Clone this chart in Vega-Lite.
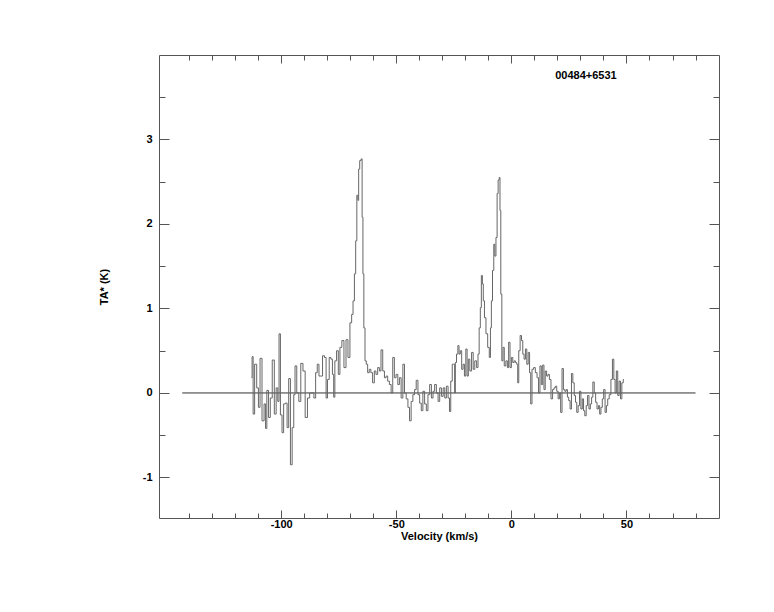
{
  "$schema": "https://vega.github.io/schema/vega-lite/v6.json",
  "width": 560,
  "height": 463,
  "autosize": "none",
  "padding": {"left": 159, "top": 55, "right": 55, "bottom": 94},
  "background": "white",
  "config": {
    "view": {"stroke": "#555", "strokeWidth": 1},
    "font": "Liberation Sans",
    "axis": {
      "grid": false,
      "domain": false,
      "tickColor": "#555",
      "tickWidth": 1,
      "labelFont": "Liberation Sans",
      "labelFontWeight": "bold",
      "labelFontSize": 11,
      "labelColor": "#000",
      "titleFont": "Liberation Sans",
      "titleFontWeight": "bold",
      "titleFontSize": 11,
      "titleColor": "#000"
    }
  },
  "datasets": {
    "base": [{"x1": -143, "x2": 80, "y": 0}],
    "lbl": [{"v": 32.4, "t": 3.75, "name": "00484+6531"}],
    "spec": [
      {"v":-112.9,"t":0.18},{"v":-112.4,"t":0.43},{"v":-112.0,"t":-0.25},{"v":-111.1,"t":0.34},{"v":-110.2,"t":0.06},{"v":-109.6,"t":-0.17},{"v":-108.8,"t":0.41},{"v":-107.9,"t":-0.33},{"v":-107.0,"t":-0.13},{"v":-106.6,"t":-0.42},{"v":-105.9,"t":0.03},{"v":-105.1,"t":-0.29},{"v":-104.4,"t":-0.06},{"v":-103.4,"t":0.39},{"v":-102.6,"t":-0.25},{"v":-101.8,"t":0.06},{"v":-101.2,"t":-0.1},{"v":-100.7,"t":0.70},{"v":-100.0,"t":-0.26},{"v":-99.3,"t":-0.47},{"v":-98.6,"t":-0.13},{"v":-97.8,"t":-0.12},{"v":-97.1,"t":-0.41},{"v":-96.4,"t":0.17},{"v":-95.6,"t":-0.85},{"v":-94.9,"t":-0.41},{"v":-94.2,"t":-0.02},{"v":-93.8,"t":0.32},{"v":-92.7,"t":0.00},{"v":-92.0,"t":-0.10},{"v":-91.0,"t":0.35},{"v":-90.1,"t":0.26},{"v":-89.1,"t":-0.29},{"v":-88.1,"t":-0.06},{"v":-87.2,"t":0.00},{"v":-86.2,"t":0.00},{"v":-85.4,"t":-0.06},{"v":-84.7,"t":0.24},{"v":-84.0,"t":0.34},{"v":-83.2,"t":0.20},{"v":-82.5,"t":0.20},{"v":-81.6,"t":0.44},{"v":-80.8,"t":0.42},{"v":-80.2,"t":-0.06},{"v":-79.6,"t":0.16},{"v":-78.7,"t":0.42},{"v":-78.1,"t":0.40},{"v":-77.4,"t":0.22},{"v":-77.0,"t":-0.05},{"v":-76.4,"t":0.38},{"v":-75.5,"t":0.50},{"v":-74.9,"t":0.22},{"v":-74.1,"t":0.54},{"v":-73.2,"t":0.62},{"v":-72.3,"t":0.30},{"v":-71.4,"t":0.63},{"v":-70.6,"t":0.42},{"v":-69.7,"t":0.83},{"v":-69.1,"t":0.93},{"v":-68.5,"t":1.09},{"v":-67.9,"t":1.41},{"v":-67.4,"t":1.80},{"v":-66.9,"t":2.34},{"v":-66.5,"t":2.28},{"v":-66.2,"t":2.65},{"v":-65.6,"t":2.75},{"v":-65.0,"t":2.77},{"v":-64.7,"t":2.08},{"v":-64.3,"t":1.41},{"v":-63.9,"t":0.77},{"v":-63.3,"t":0.38},{"v":-62.8,"t":0.34},{"v":-62.1,"t":0.24},{"v":-61.4,"t":0.28},{"v":-60.7,"t":0.24},{"v":-59.9,"t":0.12},{"v":-59.2,"t":0.26},{"v":-58.5,"t":0.22},{"v":-57.7,"t":0.30},{"v":-57.0,"t":0.26},{"v":-56.3,"t":0.51},{"v":-55.5,"t":0.26},{"v":-54.8,"t":0.18},{"v":-54.1,"t":0.20},{"v":-53.4,"t":0.14},{"v":-52.6,"t":0.10},{"v":-51.9,"t":0.0},{"v":-51.2,"t":0.42},{"v":-50.5,"t":0.18},{"v":-49.7,"t":0.22},{"v":-49.0,"t":0.10},{"v":-48.3,"t":0.18},{"v":-47.5,"t":-0.06},{"v":-46.8,"t":0.34},{"v":-46.1,"t":0.0},{"v":-45.3,"t":-0.07},{"v":-44.6,"t":-0.17},{"v":-43.9,"t":-0.33},{"v":-43.2,"t":-0.10},{"v":-42.4,"t":-0.02},{"v":-41.7,"t":0.04},{"v":-41.0,"t":0.15},{"v":-40.2,"t":-0.02},{"v":-39.5,"t":-0.12},{"v":-38.8,"t":-0.21},{"v":-38.1,"t":0.02},{"v":-37.3,"t":-0.13},{"v":-36.6,"t":-0.21},{"v":-35.9,"t":-0.02},{"v":-35.1,"t":0.10},{"v":-34.4,"t":-0.06},{"v":-33.7,"t":0.02},{"v":-33.0,"t":0.10},{"v":-32.2,"t":0.0},{"v":-31.5,"t":-0.10},{"v":-30.8,"t":0.06},{"v":-30.0,"t":-0.04},{"v":-29.3,"t":0.06},{"v":-28.6,"t":-0.06},{"v":-27.9,"t":0.08},{"v":-27.1,"t":-0.06},{"v":-26.7,"t":-0.22},{"v":-26.0,"t":0.14},{"v":-25.4,"t":0.34},{"v":-24.8,"t":0.34},{"v":-24.5,"t":0.0},{"v":-24.2,"t":0.36},{"v":-23.5,"t":0.46},{"v":-23.0,"t":0.56},{"v":-22.5,"t":0.46},{"v":-21.9,"t":0.50},{"v":-21.3,"t":0.28},{"v":-20.7,"t":0.34},{"v":-20.1,"t":0.20},{"v":-19.5,"t":0.52},{"v":-19.0,"t":0.20},{"v":-18.4,"t":0.40},{"v":-17.7,"t":0.26},{"v":-16.9,"t":0.48},{"v":-16.3,"t":0.28},{"v":-15.5,"t":0.38},{"v":-14.7,"t":0.30},{"v":-14.3,"t":0.46},{"v":-13.7,"t":0.77},{"v":-13.3,"t":1.01},{"v":-12.8,"t":1.39},{"v":-12.4,"t":1.29},{"v":-12.0,"t":1.09},{"v":-11.4,"t":0.89},{"v":-10.7,"t":0.70},{"v":-9.9,"t":0.54},{"v":-9.3,"t":0.42},{"v":-8.9,"t":0.77},{"v":-8.5,"t":1.09},{"v":-7.9,"t":1.45},{"v":-7.4,"t":1.76},{"v":-7.0,"t":1.62},{"v":-6.4,"t":1.84},{"v":-6.0,"t":2.36},{"v":-5.5,"t":2.52},{"v":-5.1,"t":2.55},{"v":-4.8,"t":2.16},{"v":-4.4,"t":1.17},{"v":-3.9,"t":0.38},{"v":-3.4,"t":0.54},{"v":-2.8,"t":0.32},{"v":-2.0,"t":0.38},{"v":-1.5,"t":0.30},{"v":-0.9,"t":0.60},{"v":-0.3,"t":0.30},{"v":0.3,"t":0.42},{"v":0.9,"t":0.36},{"v":1.5,"t":0.38},{"v":2.0,"t":0.36},{"v":2.6,"t":0.34},{"v":2.9,"t":0.12},{"v":3.5,"t":0.50},{"v":4.1,"t":0.68},{"v":4.7,"t":0.62},{"v":5.2,"t":0.46},{"v":5.8,"t":0.40},{"v":6.4,"t":0.52},{"v":7.0,"t":0.34},{"v":7.6,"t":0.48},{"v":8.2,"t":0.24},{"v":8.6,"t":-0.13},{"v":9.3,"t":0.28},{"v":10.0,"t":0.30},{"v":10.8,"t":0.24},{"v":11.5,"t":0.18},{"v":12.1,"t":0.0},{"v":12.7,"t":0.32},{"v":13.3,"t":0.10},{"v":13.9,"t":0.33},{"v":14.4,"t":0.04},{"v":15.0,"t":0.26},{"v":15.6,"t":0.20},{"v":16.2,"t":0.22},{"v":16.8,"t":0.16},{"v":17.6,"t":-0.07},{"v":18.2,"t":0.04},{"v":18.8,"t":0.06},{"v":19.4,"t":0.08},{"v":20.0,"t":0.02},{"v":20.6,"t":-0.07},{"v":21.1,"t":0.0},{"v":21.7,"t":-0.23},{"v":22.3,"t":0.29},{"v":22.9,"t":0.04},{"v":23.5,"t":0.02},{"v":24.1,"t":0.04},{"v":24.6,"t":-0.05},{"v":25.2,"t":-0.09},{"v":25.8,"t":-0.19},{"v":26.4,"t":0.23},{"v":27.0,"t":0.12},{"v":27.6,"t":-0.03},{"v":28.1,"t":-0.11},{"v":28.7,"t":-0.23},{"v":29.3,"t":-0.15},{"v":29.9,"t":0.02},{"v":30.5,"t":-0.19},{"v":31.1,"t":-0.07},{"v":31.6,"t":-0.21},{"v":32.2,"t":-0.27},{"v":32.8,"t":-0.15},{"v":33.4,"t":-0.03},{"v":34.0,"t":-0.19},{"v":34.6,"t":-0.13},{"v":35.1,"t":-0.05},{"v":35.7,"t":0.13},{"v":36.3,"t":0.0},{"v":36.9,"t":-0.11},{"v":37.5,"t":-0.19},{"v":38.1,"t":-0.15},{"v":38.6,"t":-0.25},{"v":39.2,"t":-0.17},{"v":39.8,"t":-0.07},{"v":40.4,"t":0.04},{"v":41.0,"t":-0.23},{"v":41.6,"t":-0.15},{"v":42.1,"t":-0.07},{"v":42.9,"t":-0.02},{"v":43.6,"t":0.16},{"v":44.2,"t":0.40},{"v":44.8,"t":0.16},{"v":45.3,"t":0.0},{"v":45.9,"t":0.26},{"v":46.5,"t":-0.03},{"v":47.1,"t":0.14},{"v":47.7,"t":-0.07},{"v":48.3,"t":0.12},{"v":48.9,"t":0.16}
    ]
  },
  "layer": [
    {
      "data": {"name": "base"},
      "mark": {"type": "rule", "color": "#333", "strokeWidth": 1},
      "encoding": {
        "x": {
          "field": "x1", "type": "quantitative",
          "scale": {"domain": [-153.1, 90.2], "nice": false, "zero": false},
          "axis": {
            "orient": "bottom",
            "title": "Velocity (km/s)",
            "values": [-140,-130,-120,-110,-100,-90,-80,-70,-60,-50,-40,-30,-20,-10,0,10,20,30,40,50,60,70,80],
            "labelExpr": "datum.value % 50 === 0 ? '' + datum.value : ''",
            "tickSize": {"condition": {"test": "datum.value % 50 === 0", "value": -8}, "value": -5},
            "labelPadding": 8,
            "titlePadding": 1
          }
        },
        "x2": {"field": "x2"},
        "y": {
          "field": "y", "type": "quantitative",
          "scale": {"domain": [-1.48, 4.0], "nice": false, "zero": false},
          "axis": {
            "orient": "left",
            "title": "TA* (K)",
            "values": [-1,-0.5,0,0.5,1,1.5,2,2.5,3,3.5],
            "labelExpr": "datum.value % 1 === 0 ? '' + datum.value : ''",
            "tickSize": {"condition": {"test": "datum.value % 1 === 0", "value": -10}, "value": -6},
            "labelPadding": 17,
            "titlePadding": 33
          }
        }
      }
    },
    {
      "data": {"name": "spec"},
      "mark": {"type": "line", "interpolate": "step", "color": "#666", "strokeWidth": 1},
      "encoding": {
        "x": {
          "field": "v", "type": "quantitative",
          "scale": {"domain": [-153.1, 90.2], "nice": false, "zero": false},
          "axis": {
            "orient": "top", "title": null, "labels": false,
            "values": [-140,-130,-120,-110,-100,-90,-80,-70,-60,-50,-40,-30,-20,-10,0,10,20,30,40,50,60,70,80],
            "tickSize": {"condition": {"test": "datum.value % 50 === 0", "value": -8}, "value": -5}
          }
        },
        "y": {
          "field": "t", "type": "quantitative",
          "scale": {"domain": [-1.48, 4.0], "nice": false, "zero": false},
          "axis": {
            "orient": "right", "title": null, "labels": false,
            "values": [-1,-0.5,0,0.5,1,1.5,2,2.5,3,3.5],
            "tickSize": {"condition": {"test": "datum.value % 1 === 0", "value": -10}, "value": -6}
          }
        }
      }
    },
    {
      "data": {"name": "lbl"},
      "mark": {"type": "text", "font": "Liberation Sans", "fontWeight": "bold", "fontSize": 11, "color": "#000", "baseline": "middle", "align": "center"},
      "encoding": {
        "x": {"field": "v", "type": "quantitative", "axis": null},
        "y": {"field": "t", "type": "quantitative", "axis": null},
        "text": {"field": "name"}
      }
    }
  ],
  "resolve": {"axis": {"x": "independent", "y": "independent"}}
}
